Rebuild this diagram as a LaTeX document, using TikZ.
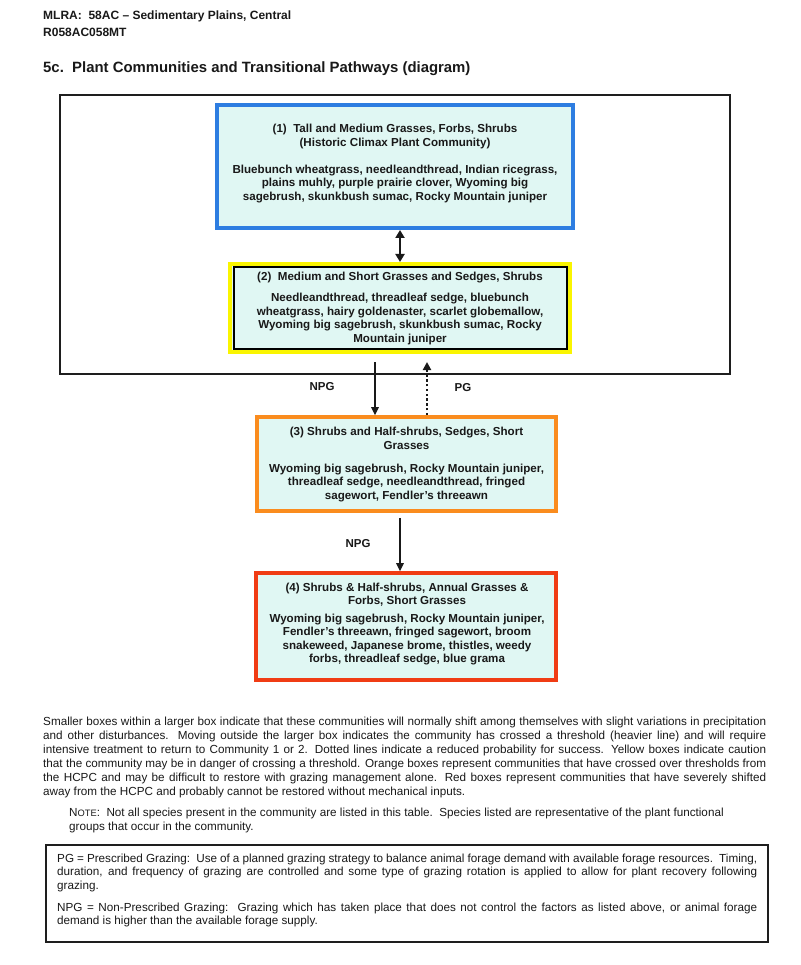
\documentclass[tikz,border=0pt]{standalone}
\usepackage{fontspec}
\setmainfont{Liberation Sans}
\usetikzlibrary{arrows.meta}
\definecolor{boxfill}{RGB}{224,247,243}
\definecolor{cblue}{RGB}{45,125,225}
\definecolor{cyellow}{RGB}{250,245,0}
\definecolor{corange}{RGB}{250,140,30}
\definecolor{cred}{RGB}{240,60,20}
\definecolor{ink}{RGB}{25,25,25}
\definecolor{frame}{RGB}{30,30,30}
\begin{document}
\begin{tikzpicture}[x=1pt,y=-1pt,
  commbox/.style={draw, fill=boxfill, line width=4pt, inner sep=0pt},
  btxt/.style={font=\fontsize{11.6}{13.4}\selectfont\bfseries, align=center, inner sep=0pt, text=ink},
  lbl/.style={font=\fontsize{11.5}{13}\selectfont\bfseries, inner sep=0pt, text=ink},
  hdr/.style={font=\fontsize{12}{14}\selectfont\bfseries, inner sep=0pt, text=ink},
  ttl/.style={font=\fontsize{14.9}{18}\selectfont\bfseries, inner sep=0pt, text=ink},
  para/.style={font=\fontsize{11.7}{14}\selectfont, align=left, inner sep=0pt, text=ink},
  arr/.style={-{Triangle[length=8pt,width=7.5pt]}, line width=1.4pt, draw=ink},
  dblarr/.style={{Triangle[length=8pt,width=9pt]}-{Triangle[length=8pt,width=9pt]}, line width=2.6pt, draw=ink},
  dotarr/.style={-{Triangle[length=8pt,width=8pt]}, line width=2.4pt, dash pattern=on 2.4pt off 2.4pt, draw=ink}
]
\useasboundingbox[fill=white] (0,0) rectangle (800,965);

% header
\node[hdr, anchor=base west] (h1) at (43,19.5) {MLRA:\ \ 58AC -- Sedimentary Plains, Central};
\node[hdr, anchor=base west] (h2) at (43,36.5) {R058AC058MT};
\node[ttl, anchor=base west] (ttl) at (43,73) {5c.\ \ Plant Communities and Transitional Pathways (diagram)};

% threshold box
\node[draw=frame, line width=2.8pt, minimum width=670pt, minimum height=279pt, inner sep=0pt] (big) at (395,234.5) {};

% community boxes
\node[commbox, draw=cblue, minimum width=356pt, minimum height=123pt] (b1) at (395,166.5) {};
\node[commbox, draw=cyellow, minimum width=340pt, minimum height=88pt] (b2) at (400,308) {};
\node[draw=black, line width=1.8pt, minimum width=333pt, minimum height=82pt, inner sep=0pt] (b2i) at (400.5,308) {};
\node[commbox, draw=corange, line width=3.6pt, minimum width=299pt, minimum height=94pt] (b3) at (406.5,464) {};
\node[commbox, draw=cred, line width=3.6pt, minimum width=300pt, minimum height=107pt] (b4) at (406,626.5) {};

\node[btxt] (t1) at (395,163.5) {(1)\ \ Tall and Medium Grasses, Forbs, Shrubs\\(Historic Climax Plant Community)\\[14pt]Bluebunch wheatgrass, needleandthread, Indian ricegrass,\\plains muhly, purple prairie clover, Wyoming big\\sagebrush, skunkbush sumac, Rocky Mountain juniper};
\node[btxt] (t2) at (400,308.5) {(2)\ \ Medium and Short Grasses and Sedges, Shrubs\\[7.6pt]Needleandthread, threadleaf sedge, bluebunch\\wheatgrass, hairy goldenaster, scarlet globemallow,\\Wyoming big sagebrush, skunkbush sumac, Rocky\\Mountain juniper};
\node[btxt] (t3) at (406.5,464.5) {(3) Shrubs and Half-shrubs, Sedges, Short\\Grasses\\[10pt]Wyoming big sagebrush, Rocky Mountain juniper,\\threadleaf sedge, needleandthread, fringed\\sagewort, Fendler’s threeawn};
\node[btxt] (t4) at (407,624) {(4) Shrubs \& Half-shrubs, Annual Grasses \&\\Forbs, Short Grasses\\[4.6pt]Wyoming big sagebrush, Rocky Mountain juniper,\\Fendler’s threeawn, fringed sagewort, broom\\snakeweed, Japanese brome, thistles, weedy\\forbs, threadleaf sedge, blue grama};

% connectors
\draw[dblarr] ([xshift=5pt]b1.south) -- (b2.north);
\draw[arr] ([xshift=-25pt,yshift=-8pt]b2.south) -- ([xshift=-31.5pt]b3.north);
\draw[dotarr] ([xshift=20.5pt]b3.north) -- ([xshift=27pt,yshift=-8pt]b2.south);
\draw[arr] ([xshift=-6.5pt,yshift=-5pt]b3.south) -- ([xshift=-6pt]b4.north);

\node[lbl] (l1) at (322,387) {NPG};
\node[lbl] (l2) at (463,388) {PG};
\node[lbl] (l3) at (358,544) {NPG};

% explanatory text
\node[para, anchor=north west] (para) at (43,716.7) {%
\makebox[723pt][s]{Smaller boxes within a larger box indicate that these communities will normally shift among themselves with slight variations in precipitation}\\
\makebox[723pt][s]{and other disturbances. Moving outside the larger box indicates the community has crossed a threshold (heavier line) and will require}\\
\makebox[723pt][s]{intensive treatment to return to Community 1 or 2. Dotted lines indicate a reduced probability for success. Yellow boxes indicate caution}\\
\makebox[723pt][s]{that the community may be in danger of crossing a threshold. Orange boxes represent communities that have crossed over thresholds from}\\
\makebox[723pt][s]{the HCPC and may be difficult to restore with grazing management alone. Red boxes represent communities that have severely shifted}\\
away from the HCPC and probably cannot be restored without mechanical inputs.};

\node[para, anchor=north west] (note) at (69,807.7) {%
N{\fontsize{9.3}{10}\selectfont OTE}:\ \ Not all species present in the community are listed in this table.\ \ Species listed are representative of the plant functional\\
groups that occur in the community.};

% definitions box
\node[draw=frame, line width=1.4pt, minimum width=722pt, minimum height=97pt, inner sep=0pt] (defs) at (407,893.5) {};
\node[para, anchor=north west, font=\fontsize{11.7}{13.5}\selectfont] (deftxt) at (57,853.7) {%
\makebox[700pt][s]{PG = Prescribed Grazing:\ \ Use of a planned grazing strategy to balance animal forage demand with available forage resources.\ \ Timing,}\\
\makebox[700pt][s]{duration, and frequency of grazing are controlled and some type of grazing rotation is applied to allow for plant recovery following}\\
grazing.\\[8.5pt]
\makebox[700pt][s]{NPG = Non-Prescribed Grazing:\ \ Grazing which has taken place that does not control the factors as listed above, or animal forage}\\
demand is higher than the available forage supply.};
\end{tikzpicture}
\end{document}
